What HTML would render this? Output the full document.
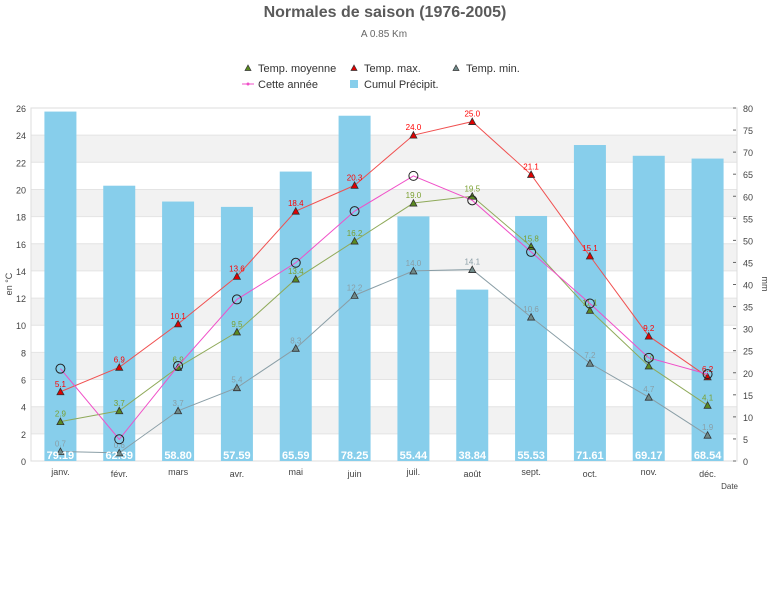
<!DOCTYPE html>
<html><head><meta charset="utf-8"><style>
body{margin:0;background:#fff;}
svg{display:block;font-family:"Liberation Sans",sans-serif;}
</style></head><body>
<svg id="c" width="768" height="614" xmlns="http://www.w3.org/2000/svg"></svg>
<script>
var L=31,R=737,T=108,B=461,W=R-L,cw=W/12;
var yL=function(v){return B-v*(B-T)/26}, yR=function(v){return B-v*(B-T)/80};
var cx=function(i){return L+(i+0.5)*cw};
var s='';
s+='<text x="385" y="17" text-anchor="middle" font-size="16" font-weight="bold" fill="#5a5a5a">Normales de saison (1976-2005)</text>';
s+='<text x="384" y="37" text-anchor="middle" font-size="10" fill="#666">A 0.85 Km</text>';
for(var v=2;v<26;v+=4){s+='<rect x="'+L+'" y="'+yL(v+2)+'" width="'+W+'" height="'+(yL(v)-yL(v+2))+'" fill="#f2f2f2"/>';}
for(var v=0;v<=26;v+=2){s+='<line x1="'+L+'" x2="'+R+'" y1="'+yL(v)+'" y2="'+yL(v)+'" stroke="#e4e4e4"/>';
 s+='<text x="26" y="'+(yL(v)+4)+'" text-anchor="end" font-size="9" fill="#444">'+v+'</text>';}
s+='<rect x="'+L+'" y="'+T+'" width="'+W+'" height="'+(B-T)+'" fill="none" stroke="#ddd"/>';
for(var v=0;v<=80;v+=5){var y=yR(v);s+='<line x1="'+(R-4)+'" x2="'+(R-1)+'" y1="'+y+'" y2="'+y+'" stroke="#666"/>';
 s+='<text x="743" y="'+(y+4)+'" font-size="9" fill="#444">'+v+'</text>';}
s+='<text transform="translate(12,284) rotate(-90)" text-anchor="middle" font-size="9" fill="#444">en °C</text>';
s+='<text transform="translate(762,284) rotate(90)" text-anchor="middle" font-size="9" fill="#444">mm</text>';
var months=['janv.','févr.','mars','avr.','mai','juin','juil.','août','sept.','oct.','nov.','déc.'];
var pr=[79.19,62.39,58.80,57.59,65.59,78.25,55.44,38.84,55.53,71.61,69.17,68.54];
for(var i=0;i<12;i++){var x=cx(i);
 s+='<rect x="'+(x-16)+'" y="'+yR(pr[i])+'" width="32" height="'+(B-yR(pr[i]))+'" fill="#87ceeb"/>';
 s+='<text x="'+x+'" y="'+(B+14+(i%2?2:0))+'" text-anchor="middle" font-size="9" fill="#444">'+months[i]+'</text>';}
s+='<text x="738" y="489" text-anchor="end" font-size="8" fill="#444">Date</text>';
function line(d,col,lab,mk,lc){var p='';for(var i=0;i<12;i++)p+=(i?'L':'M')+cx(i)+' '+yL(d[i]);
 s+='<path d="'+p+'" fill="none" stroke="'+col+'" stroke-width="1"/>';
 for(var i=0;i<12;i++){var x=cx(i),y=yL(d[i]);
  if(mk)s+='<path d="M'+(x-3.5)+' '+(y+3)+'L'+x+' '+(y-3.5)+'L'+(x+3.5)+' '+(y+3)+'Z" fill="'+mk+'" stroke="#333" stroke-width="0.8"/>';
  else s+='<circle cx="'+x+'" cy="'+y+'" r="4.5" fill="none" stroke="#222"/>';
  if(lab)s+='<text x="'+x+'" y="'+(y-5)+'" text-anchor="middle" font-size="8" fill="'+lc+'">'+d[i].toFixed(1)+'</text>';}}
line([0.7,0.6,3.7,5.4,8.3,12.2,14.0,14.1,10.6,7.2,4.7,1.9],'#8a9ea6',1,'#6f8a8a','#8a9ea6');
line([2.9,3.7,6.9,9.5,13.4,16.2,19.0,19.5,15.8,11.1,7.0,4.1],'#8faa5a',1,'#5a8a20','#7aa030');
line([5.1,6.9,10.1,13.6,18.4,20.3,24.0,25.0,21.1,15.1,9.2,6.2],'#f05050',1,'#e00000','#f00');
line([6.8,1.6,7.0,11.9,14.6,18.4,21.0,19.2,15.4,11.6,7.6,6.4],'#f050c8',0,null,'');
for(var i=0;i<12;i++)s+='<text x="'+cx(i)+'" y="'+(B-2)+'" text-anchor="middle" font-size="11" font-weight="bold" fill="#fff">'+pr[i].toFixed(2)+'</text>';
function tri(x,y,c){return '<path d="M'+(x-3)+' '+(y+2.5)+'L'+x+' '+(y-3)+'L'+(x+3)+' '+(y+2.5)+'Z" fill="'+c+'" stroke="#333" stroke-width="0.7"/>';}
s+=tri(248,68,'#5a8a20')+'<text x="258" y="72" font-size="11" fill="#333">Temp. moyenne</text>';
s+=tri(354,68,'#e00000')+'<text x="364" y="72" font-size="11" fill="#333">Temp. max.</text>';
s+=tri(456,68,'#6f8a8a')+'<text x="466" y="72" font-size="11" fill="#333">Temp. min.</text>';
s+='<line x1="242" x2="254" y1="84" y2="84" stroke="#f050c8"/><circle cx="248" cy="84" r="1.5" fill="#f050c8"/><text x="258" y="88" font-size="11" fill="#333">Cette année</text>';
s+='<rect x="350" y="80" width="8" height="8" fill="#87ceeb"/><text x="364" y="88" font-size="11" fill="#333">Cumul Précipit.</text>';
document.getElementById('c').innerHTML=s;
</script>
</body></html>
